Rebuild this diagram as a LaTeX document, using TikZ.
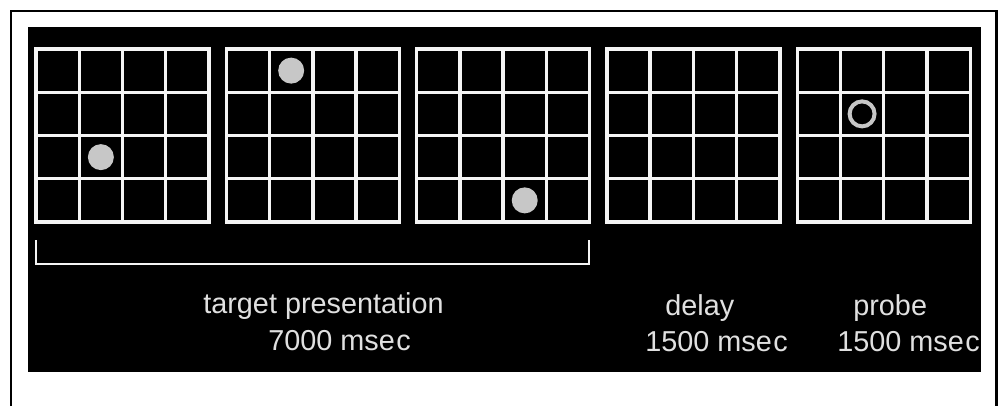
\documentclass[tikz,border=0pt]{standalone}
\usepackage{fontspec}
\setmainfont{Liberation Sans}
\tikzset{>=latex}
\colorlet{bgcol}{black}
\colorlet{gridcol}{white!96!black}
\colorlet{dotcol}{white!78!black}
\colorlet{txtcol}{white!88!black}
\tikzstyle{gridline}=[gridcol,line width=0.068cm,line cap=rect]
\tikzstyle{spot}=[circle,fill=dotcol,inner sep=0,minimum size=0.52cm]
\tikzstyle{ring}=[circle,draw=dotcol,line width=0.08cm,inner sep=0,minimum size=0.5cm]
\tikzstyle{timetext}=[txtcol,inner sep=0,anchor=base west,font=\fontsize{16.4}{20}\selectfont]
\def\msec{mse\kern0.05em c}

\begin{document}
\begin{tikzpicture}[x=0.02cm,y=-0.02cm]
  \def\gx{36}    % left of first grid
  \def\gy{49}    % top of grids
  \def\gs{173}   % grid size
  \def\gd{190.3} % grid spacing
  \def\c{43.25}  % cell size
  \useasboundingbox (0,0) rectangle (998,406);

  % FRAME
  \draw[line width=0.054cm] (11,406) -- (11,11) -- (996.5,11) -- (996.5,406);
  \fill[bgcol] (28,27) rectangle (981,372);

  % GRIDS
  \foreach \i in {0,...,4}{
    \foreach \k in {0,...,4}{
      \draw[gridline] ({\gx+\i*\gd+\k*\c},\gy) --++ (0,\gs);
      \draw[gridline] ({\gx+\i*\gd},{\gy+\k*\c}) --++ (\gs,0);
    }
  }

  % STIMULI
  \node[spot] (t1) at ({\gx+1.5*\c},{\gy+2.5*\c}) {};
  \node[spot] (t2) at ({\gx+\gd+1.5*\c},{\gy+0.5*\c}) {};
  \node[spot] (t3) at ({\gx+2*\gd+2.5*\c},{\gy+3.5*\c}) {};
  \node[ring] (pr) at ({\gx+4*\gd+1.5*\c},{\gy+1.5*\c}) {};

  % BRACKET
  \draw[gridcol,line width=0.04cm] (36,240) -- (36,263.5) -- (589,263.5) -- (589,240);

  % LABELS
  \node[timetext] (tp)  at (203,313) {target presentation};
  \node[timetext] (tpt) at (268,350) {7000 \msec};
  \node[timetext] (dl)  at (665,315) {delay};
  \node[timetext] (dlt) at (645,351) {1500 \msec};
  \node[timetext] (pb)  at (853,315) {probe};
  \node[timetext] (pbt) at (837,351) {1500 \msec};

\end{tikzpicture}
\end{document}
